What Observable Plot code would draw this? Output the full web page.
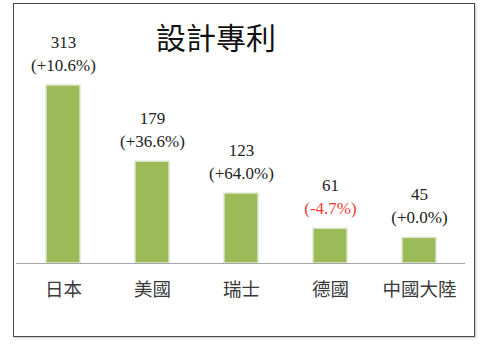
<!DOCTYPE html>
<html>
<head>
<meta charset="utf-8">
<script src="https://cdn.jsdelivr.net/npm/d3@7"></script>
<script src="https://cdn.jsdelivr.net/npm/@observablehq/plot@0.6"></script>
<style>
  html, body { margin: 0; padding: 0; background: #fff; }
  #wrap { position: relative; width: 491px; height: 352px; overflow: hidden; }
  #box { position: absolute; left: 13px; top: 3px; width: 460px; height: 332px; border: 1.5px solid #4a4a4a; box-shadow: 1px 1px 2px rgba(0,0,0,0.25); pointer-events: none; }
  #title { position: absolute; left: 0; width: 432px; top: 18px; text-align: center; font-family: "Noto Sans CJK TC", sans-serif; font-size: 30px; color: #111; line-height: 1.2; }
  #chart { position: absolute; left: 0; top: 0; }
</style>
</head>
<body>
<div id="wrap">
  <div id="chart"></div>
  <div id="box"></div>
  <div id="title">設計專利</div>
</div>
<script>
const categories = ["日本", "美國", "瑞士", "德國", "中國大陸"];
const values = [313, 179, 123, 61, 45];
const changes = ["(+10.6%)", "(+36.6%)", "(+64.0%)", "(-4.7%)", "(+0.0%)"];
const changeNums = [10.6, 36.6, 64.0, -4.7, 0.0];

const data = categories.map((c, i) => ({cat: c, value: values[i], change: changes[i], num: changeNums[i]}));

const chart = Plot.plot({
  width: 491,
  height: 352,
  marginLeft: 16,
  marginRight: 26,
  marginTop: 85,
  marginBottom: 89,
  style: {background: "transparent"},
  x: {domain: categories, paddingInner: 0.62, paddingOuter: 0.31, label: null},
  y: {domain: [0, d3.max(values)], axis: null},
  marks: [
    Plot.barY(data, {x: "cat", y: "value", fill: "#9bbb59", stroke: "#dde6cc", strokeWidth: 1.5}),
    Plot.ruleY([0], {stroke: "#a6a6a6", strokeWidth: 1.2}),
    Plot.text(data, {x: "cat", y: "value", text: d => String(d.value), dy: -43, fontFamily: "'Liberation Serif', serif", fontSize: 17, fill: "#222"}),
    Plot.text(data, {x: "cat", y: "value", text: "change", dy: -20, fontFamily: "'Liberation Serif', serif", fontSize: 17, fill: d => d.num < 0 ? "#ee3b3b" : "#222"}),
    Plot.axisX({tickSize: 0, tickPadding: 19, fontSize: 18.5, fontFamily: "'Noto Sans CJK TC', sans-serif", color: "#3a3a3a", label: null})
  ]
});
document.getElementById("chart").appendChild(chart);
</script>
</body>
</html>
